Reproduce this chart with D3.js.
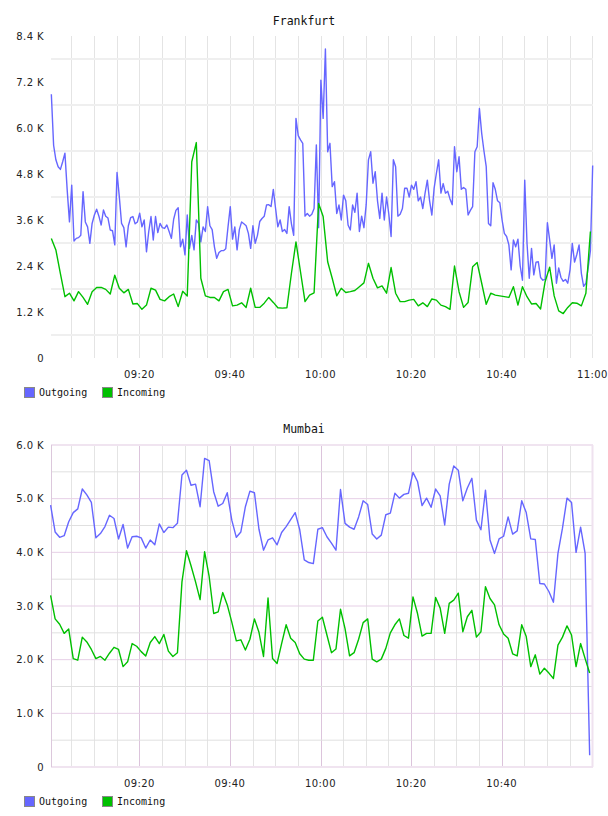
<!DOCTYPE html>
<html>
<head>
<meta charset="utf-8">
<script src="https://cdn.jsdelivr.net/npm/d3@7"></script>
<style>
  body { margin: 0; background: #fff; }
  svg { display: block; }
  .lbl { font-family: "DejaVu Sans", sans-serif; font-size: 10px; fill: #222; letter-spacing: 0.4px; }
  .mono { font-family: "DejaVu Sans Mono", monospace; fill: #111; }
</style>
</head>
<body>
<div id="chart"></div>
<script>
// ---- data (values in K) ----
// Frankfurt outgoing, one sample every 30 s
const frankfurtOut = [
  6.88,5.55,5.17,4.99,4.92,5.12,5.34,4.38,3.55,4.51,
  3.05,3.12,3.14,3.20,4.34,3.55,3.42,2.99,3.51,3.73,
  3.88,3.70,3.47,3.86,3.70,3.65,3.34,3.32,2.95,4.84,
  4.21,3.51,3.40,2.90,3.45,3.66,3.69,3.50,3.55,3.78,
  3.42,3.60,2.77,3.30,3.69,3.08,3.69,3.27,3.51,3.40,
  3.38,3.47,3.30,3.12,3.62,3.85,3.92,2.90,3.10,2.69,
  3.73,2.86,3.20,2.82,3.60,3.51,
  3.03,3.42,3.30,3.95,3.45,3.35,2.90,2.60,2.75,2.80,
  2.80,2.85,3.42,3.95,3.10,3.42,2.82,3.35,3.55,3.50,
  3.45,3.25,2.86,3.45,2.99,3.20,3.56,3.64,3.70,3.99,
  4.00,3.95,4.40,3.90,3.42,3.60,3.30,3.35,3.25,3.95,
  3.50,3.20,6.25,5.80,5.69,5.60,3.70,3.77,3.70,3.75,
  3.90,5.56,3.40,7.25,6.25,8.06,5.38,5.60,4.47,4.60,
  3.77,3.99,3.60,4.25,4.10,3.47,3.34,3.99,3.80,4.30,
  3.30,3.70,3.40,4.00,5.17,5.38,4.56,4.86,4.10,3.64,
  4.30,3.60,4.20,3.75,3.17,5.17,4.99,3.70,3.75,3.90,
  4.43,4.43,4.20,
  4.51,4.40,4.60,4.10,4.20,3.90,4.30,4.64,4.10,3.73,
  4.43,4.82,5.17,4.30,4.55,4.30,4.35,4.15,4.00,5.51,
  4.86,5.25,4.40,4.45,4.40,3.73,3.85,3.95,5.38,5.51,
  6.51,5.86,5.40,4.99,3.51,3.45,4.57,4.40,4.10,4.05,
  3.60,3.25,3.17,2.95,2.30,3.08,2.90,3.10,2.40,2.03,
  4.64,3.00,2.08,2.86,2.17,2.50,2.51,2.10,2.03,2.05,
  3.53,3.08,2.60,2.95,1.95,2.35,2.10,2.00,2.05,1.95,
  2.30,2.99,2.50,2.70,2.95,2.21,1.87,1.95,2.35,2.80,5.02
];
// Frankfurt incoming, one sample per minute
const frankfurtIn = [
  3.12,2.82,2.20,1.60,1.69,1.49,1.73,1.58,1.40,1.73,
  1.84,1.84,1.79,1.67,2.16,1.82,1.70,1.79,1.41,1.42,
  1.27,1.38,1.82,1.77,1.53,1.49,1.60,1.67,1.34,1.74,
  1.62,5.12,5.62,2.08,1.62,1.58,1.58,1.49,1.73,1.79,
  1.36,1.38,1.44,1.32,1.82,1.32,1.32,1.43,1.58,1.45,
  1.31,1.30,1.31,2.21,3.03,2.25,1.47,1.64,1.70,4.03,
  3.69,2.51,2.08,1.62,1.82,1.71,1.73,1.76,1.86,1.96,
  2.47,2.08,1.83,1.88,1.69,2.36,1.69,1.47,1.47,1.51,
  1.53,1.36,1.44,1.34,1.54,1.51,1.38,1.34,1.27,2.40,
  1.73,1.32,1.45,2.38,2.49,1.95,1.40,1.69,1.64,1.62,
  1.60,1.58,1.86,1.38,1.86,1.60,1.41,1.42,1.28,1.99,
  2.37,1.62,1.23,1.16,1.32,1.44,1.43,1.36,1.69,3.30
];
// Mumbai, one sample per minute
const mumbaiOut = [
  4.88,4.38,4.28,4.31,4.57,4.74,4.81,5.18,5.07,4.93,
  4.27,4.35,4.48,4.69,4.63,4.25,4.52,4.08,4.29,4.30,
  4.27,4.08,4.23,4.14,4.53,4.37,4.47,4.46,4.54,5.44,
  5.53,5.25,5.27,4.85,5.75,5.71,5.13,4.86,4.91,5.11,
  4.60,4.28,4.38,4.85,5.14,5.11,4.43,4.04,4.23,4.27,
  4.14,4.37,4.48,4.61,4.74,4.42,3.86,3.81,3.79,4.43,
  4.46,4.29,4.17,4.04,5.17,4.54,4.47,4.43,4.66,4.96,
  4.89,4.34,4.25,4.32,4.70,4.73,5.10,5.01,5.08,5.10,
  5.49,5.32,4.87,5.01,4.84,5.18,5.05,4.51,5.27,5.61,
  5.53,4.96,5.20,5.38,4.60,4.42,5.16,4.23,3.98,4.25,
  4.30,4.66,4.34,4.40,4.96,4.74,4.25,4.24,3.42,3.41,
  3.27,3.07,3.98,4.45,5.01,4.93,4.00,4.47,3.98,0.22
];
const mumbaiIn = [
  3.20,2.76,2.66,2.49,2.57,2.02,1.99,2.42,2.33,2.19,
  2.02,2.06,1.99,2.12,2.23,2.19,1.87,1.96,2.30,2.25,
  2.15,2.07,2.32,2.43,2.30,2.47,2.16,2.06,2.13,3.45,
  4.03,3.75,3.45,3.12,4.01,3.55,2.86,2.89,3.25,3.02,
  2.70,2.35,2.37,2.18,2.38,2.76,2.51,2.06,3.15,2.02,
  1.93,2.30,2.65,2.40,2.32,2.11,2.01,1.99,1.99,2.72,
  2.79,2.46,2.13,2.20,2.94,2.58,2.07,2.13,2.38,2.69,
  2.76,2.01,1.96,2.01,2.21,2.50,2.65,2.76,2.45,2.40,
  3.17,2.86,2.44,2.49,2.49,3.16,2.96,2.49,3.05,3.11,
  3.24,2.52,2.80,2.92,2.42,2.52,3.36,3.14,3.02,2.65,
  2.48,2.40,2.11,2.07,2.65,2.43,1.87,2.09,1.73,1.84,
  1.75,1.65,2.27,2.42,2.63,2.46,1.87,2.30,2.02,1.75
];

const frankfurtYTicks = [0, 1.2, 2.4, 3.6, 4.8, 6.0, 7.2, 8.4];
const mumbaiYTicks = [0, 1, 2, 3, 4, 5, 6];
const frankfurtTimeLabels = ["09:20", "09:40", "10:00", "10:20", "10:40", "11:00"];
const mumbaiTimeLabels = ["09:20", "09:40", "10:00", "10:20", "10:40"];
const seriesNames = ["Outgoing", "Incoming"];
const seriesColors = ["#6666ff", "#00c000"];

const parseHM = d3.timeParse("%H:%M");
const parseHMS = d3.timeParse("%H:%M:%S");

// x time scale shared by both charts
const x = d3.scaleTime()
    .domain([parseHM("09:20"), parseHM("11:00")])
    .range([139.3, 592.3]);

// sample times
function times(n, start, stepSec) {
  const t0 = parseHMS(start).getTime();
  return d3.range(n).map(i => new Date(t0 + i * stepSec * 1000));
}

const svg = d3.select("#chart").append("svg")
    .attr("width", 608)
    .attr("height", 816);

function drawChart(o) {
  const g = svg.append("g");
  const y = d3.scaleLinear().domain([0, d3.max(o.yTicks)]).range([o.bottom, o.top]);
  const left = 51, right = 593;
  const fmt = v => v === 0 ? "0" : v.toFixed(1) + " K";

  // 5-minute vertical grid
  const minorT = d3.timeMinute.every(5).range(parseHM("09:05"), o.lastTick);
  const majorT = o.timeLabels.map(parseHM);
  const isMajor = t => majorT.some(m => +m === +t);

  g.selectAll(".vgrid").data(minorT).enter().append("line")
      .attr("x1", d => Math.round(x(d)) + 0.5).attr("x2", d => Math.round(x(d)) + 0.5)
      .attr("y1", o.top).attr("y2", o.bottom)
      .attr("stroke", d => (o.purple && isMajor(d)) ? "#dcc4dc" : "#e4e4e4")
      .attr("stroke-width", 1);

  // horizontal grid
  g.selectAll(".hgrid").data(o.hGrid).enter().append("line")
      .attr("x1", left).attr("x2", right)
      .attr("y1", d => y(d.v)).attr("y2", d => y(d.v))
      .attr("stroke", d => d.c)
      .attr("stroke-width", d => d.w);

  if (o.purple) {
    // frame
    g.append("line").attr("x1", left + 0.5).attr("x2", left + 0.5)
        .attr("y1", o.top).attr("y2", o.bottom).attr("stroke", "#dcc8dc");
    g.append("line").attr("x1", right - 0.5).attr("x2", right - 0.5)
        .attr("y1", o.top).attr("y2", o.bottom).attr("stroke", "#efe2ef").attr("stroke-width", 2);
  }

  // y labels
  g.selectAll(".ylab").data(o.yTicks).enter().append("text")
      .attr("class", "lbl")
      .attr("x", 44).attr("y", d => y(d))
      .attr("dy", "0.36em")
      .attr("text-anchor", "end")
      .text(fmt);

  // x labels
  g.selectAll(".xlab").data(majorT).enter().append("text")
      .attr("class", "lbl")
      .attr("x", d => x(d)).attr("y", o.bottom + 20)
      .attr("text-anchor", "middle")
      .text(d3.timeFormat("%H:%M"));

  // title
  g.append("text").attr("class", "mono")
      .attr("x", 304).attr("y", o.titleY)
      .attr("text-anchor", "middle")
      .style("font-size", "11.5px")
      .text(o.title);

  // lines
  const line = d3.line().x(d => x(d[0])).y(d => y(d[1]));
  o.series.forEach((s, i) => {
    g.append("path")
        .datum(d3.zip(s.t, s.v))
        .attr("fill", "none")
        .attr("stroke", seriesColors[i])
        .attr("stroke-width", 1.4)
        .attr("stroke-linejoin", "round")
        .attr("d", line);
  });

  // legend
  const lg = g.append("g").attr("transform", "translate(24," + (o.bottom + 29) + ")");
  seriesNames.forEach((n, i) => {
    const xo = i === 0 ? 0 : 78;
    lg.append("rect").attr("x", xo + 0.5).attr("y", 0.5).attr("width", 10).attr("height", 10)
        .attr("fill", seriesColors[i]).attr("stroke", "#888");
    lg.append("text").attr("class", "mono").attr("x", xo + 15).attr("y", 9)
        .style("font-size", "10px").text(n);
  });
}

// Frankfurt
const fGrid = d3.pairs(frankfurtYTicks).map(p => ({v: (p[0] + p[1]) / 2, c: "#efefef", w: 2}));
drawChart({
  title: "Frankfurt", titleY: 25, top: 36, bottom: 358,
  yTicks: frankfurtYTicks, timeLabels: frankfurtTimeLabels,
  lastTick: parseHM("11:01"), purple: false, hGrid: fGrid,
  series: [
    {t: times(frankfurtOut.length, "09:00:35", 30), v: frankfurtOut},
    {t: times(frankfurtIn.length, "09:00:35", 60), v: frankfurtIn}
  ]
});

// Mumbai
const mGrid = [];
d3.range(0, 6.01, 0.5).forEach(v => {
  if (v === 0 || v === 6) mGrid.push({v: v, c: "#f0e4f0", w: 2});
  else if (Number.isInteger(v)) mGrid.push({v: v, c: "#e6cfe6", w: 1});
  else mGrid.push({v: v, c: "#e0e0e0", w: 1});
});
drawChart({
  title: "Mumbai", titleY: 433, top: 445, bottom: 767,
  yTicks: mumbaiYTicks, timeLabels: mumbaiTimeLabels,
  lastTick: parseHM("10:56"), purple: true, hGrid: mGrid,
  series: [
    {t: times(mumbaiOut.length, "09:00:25", 60), v: mumbaiOut},
    {t: times(mumbaiIn.length, "09:00:25", 60), v: mumbaiIn}
  ]
});
</script>
</body>
</html>
